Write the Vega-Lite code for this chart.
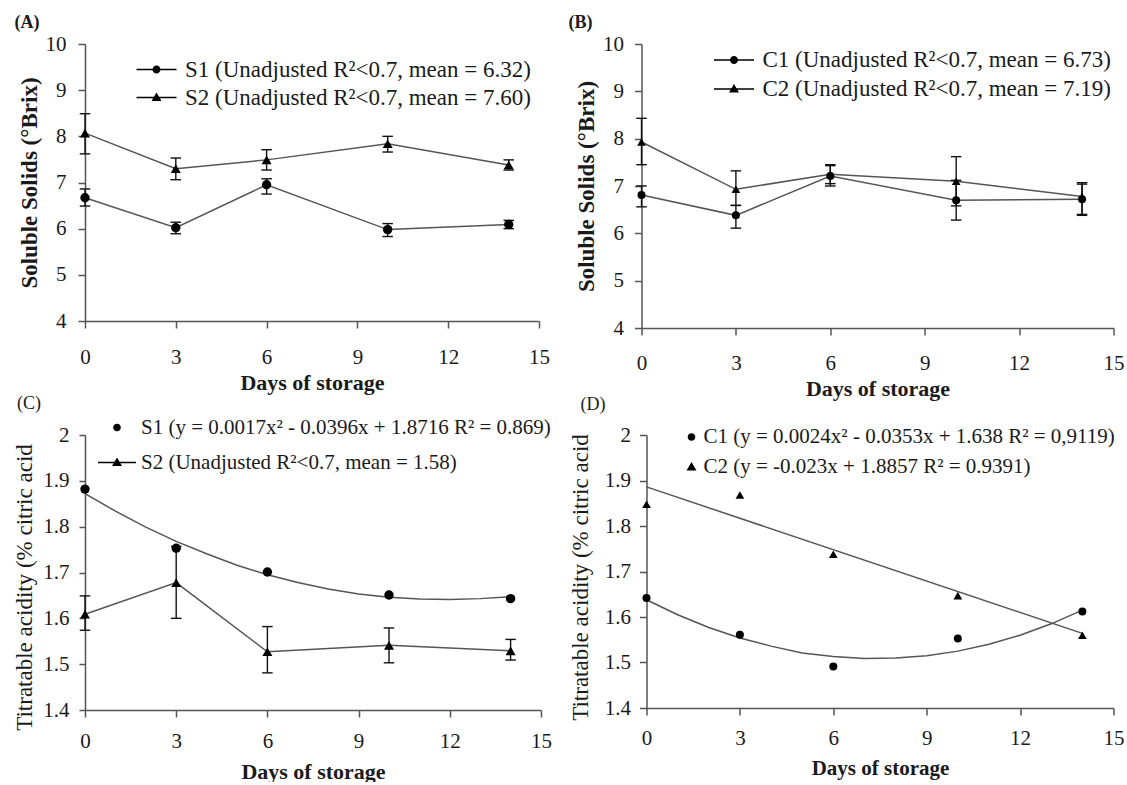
{
  "$schema": "https://vega.github.io/schema/vega-lite/v6.json",
  "padding": {"left": 13, "top": 14, "right": 0, "bottom": 0},
  "background": "white",
  "columns": 2,
  "align": {"row": "all", "column": "none"},
  "spacing": {"row": -5, "column": 16.5},
  "config": {
    "font": "Liberation Serif",
    "view": {"stroke": null},
    "axis": {"grid": false, "domainColor": "#555", "tickColor": "#555", "domainWidth": 1.5, "tickWidth": 1.5, "labelColor": "#1a1a1a", "titleColor": "#1a1a1a", "labelFont": "Liberation Serif", "titleFont": "Liberation Serif", "labelFontSize": 21, "labelFlush": false, "labelOverlap": false},
    "legend": {"title": null, "labelFont": "Liberation Serif", "labelColor": "#1a1a1a", "labelLimit": 1000, "padding": 0, "symbolSize": 400, "orient": "none"},
    "title": {"font": "Liberation Serif", "color": "#1a1a1a", "anchor": "start", "frame": "group", "fontSize": 18}
  },
  "datasets": {
    "A": [
      {"series": "S1", "day": 0, "value": 6.67, "lo": 6.49, "hi": 6.86},
      {"series": "S1", "day": 3, "value": 6.02, "lo": 5.89, "hi": 6.14},
      {"series": "S1", "day": 6, "value": 6.95, "lo": 6.75, "hi": 7.08},
      {"series": "S1", "day": 10, "value": 5.98, "lo": 5.83, "hi": 6.11},
      {"series": "S1", "day": 14, "value": 6.09, "lo": 6.0, "hi": 6.18},
      {"series": "S2", "day": 0, "value": 8.07, "lo": 7.62, "hi": 8.49},
      {"series": "S2", "day": 3, "value": 7.3, "lo": 7.06, "hi": 7.53},
      {"series": "S2", "day": 6, "value": 7.49, "lo": 7.27, "hi": 7.71},
      {"series": "S2", "day": 10, "value": 7.84, "lo": 7.66, "hi": 8.0},
      {"series": "S2", "day": 14, "value": 7.38, "lo": 7.27, "hi": 7.49}
    ],
    "B": [
      {"series": "C1", "day": 0, "value": 6.81, "lo": 6.56, "hi": 7.0},
      {"series": "C1", "day": 3, "value": 6.38, "lo": 6.11, "hi": 6.59},
      {"series": "C1", "day": 6, "value": 7.21, "lo": 7.0, "hi": 7.43},
      {"series": "C1", "day": 10, "value": 6.7, "lo": 6.28, "hi": 7.12},
      {"series": "C1", "day": 14, "value": 6.72, "lo": 6.38, "hi": 7.04},
      {"series": "C2", "day": 0, "value": 7.93, "lo": 7.45, "hi": 8.43},
      {"series": "C2", "day": 3, "value": 6.93, "lo": 6.59, "hi": 7.32},
      {"series": "C2", "day": 6, "value": 7.25, "lo": 7.05, "hi": 7.45},
      {"series": "C2", "day": 10, "value": 7.1, "lo": 6.58, "hi": 7.62},
      {"series": "C2", "day": 14, "value": 6.78, "lo": 6.4, "hi": 7.07}
    ],
    "C": [
      {"series": "S1", "day": 0, "value": 1.882},
      {"series": "S1", "day": 3, "value": 1.753},
      {"series": "S1", "day": 6, "value": 1.701},
      {"series": "S1", "day": 10, "value": 1.651},
      {"series": "S1", "day": 14, "value": 1.643},
      {"series": "S2", "day": 0, "value": 1.609, "lo": 1.574, "hi": 1.649},
      {"series": "S2", "day": 3, "value": 1.678, "lo": 1.6, "hi": 1.757},
      {"series": "S2", "day": 6, "value": 1.527, "lo": 1.481, "hi": 1.582},
      {"series": "S2", "day": 10, "value": 1.541, "lo": 1.503, "hi": 1.579},
      {"series": "S2", "day": 14, "value": 1.529, "lo": 1.509, "hi": 1.554}
    ],
    "Cfit": [
      {"series": "S1", "day": 0, "value": 1.872},
      {"series": "S1", "day": 1, "value": 1.834},
      {"series": "S1", "day": 2, "value": 1.799},
      {"series": "S1", "day": 3, "value": 1.768},
      {"series": "S1", "day": 4, "value": 1.741},
      {"series": "S1", "day": 5, "value": 1.716},
      {"series": "S1", "day": 6, "value": 1.695},
      {"series": "S1", "day": 7, "value": 1.678},
      {"series": "S1", "day": 8, "value": 1.664},
      {"series": "S1", "day": 9, "value": 1.653},
      {"series": "S1", "day": 10, "value": 1.646},
      {"series": "S1", "day": 11, "value": 1.642},
      {"series": "S1", "day": 12, "value": 1.641},
      {"series": "S1", "day": 13, "value": 1.643},
      {"series": "S1", "day": 14, "value": 1.647}
    ],
    "D": [
      {"series": "C1", "day": 0, "value": 1.642},
      {"series": "C1", "day": 3, "value": 1.561},
      {"series": "C1", "day": 6, "value": 1.491},
      {"series": "C1", "day": 10, "value": 1.553},
      {"series": "C1", "day": 14, "value": 1.612},
      {"series": "C2", "day": 0, "value": 1.848},
      {"series": "C2", "day": 3, "value": 1.868},
      {"series": "C2", "day": 6, "value": 1.738},
      {"series": "C2", "day": 10, "value": 1.647},
      {"series": "C2", "day": 14, "value": 1.56}
    ],
    "Dfit": [
      {"series": "C1", "day": 0, "value": 1.638},
      {"series": "C1", "day": 1, "value": 1.605},
      {"series": "C1", "day": 2, "value": 1.577},
      {"series": "C1", "day": 3, "value": 1.554},
      {"series": "C1", "day": 4, "value": 1.536},
      {"series": "C1", "day": 5, "value": 1.521},
      {"series": "C1", "day": 6, "value": 1.513},
      {"series": "C1", "day": 7, "value": 1.509},
      {"series": "C1", "day": 8, "value": 1.51},
      {"series": "C1", "day": 9, "value": 1.515},
      {"series": "C1", "day": 10, "value": 1.525},
      {"series": "C1", "day": 11, "value": 1.54},
      {"series": "C1", "day": 12, "value": 1.56},
      {"series": "C1", "day": 13, "value": 1.585},
      {"series": "C1", "day": 14, "value": 1.615},
      {"series": "C2", "day": 0, "value": 1.886},
      {"series": "C2", "day": 14, "value": 1.564}
    ]
  },
  "concat": [
    {
      "width": 454, "height": 277,
      "title": {"text": "(A)", "fontWeight": "bold", "dx": -70.5, "offset": 1},
      "data": {"name": "A"},
      "encoding": {
        "x": {"field": "day", "type": "quantitative", "scale": {"domain": [0, 15], "nice": false},
          "axis": {"title": "Days of storage", "values": [0, 3, 6, 9, 12, 15], "tickSize": 7, "labelPadding": 18, "titlePadding": 5, "labelFont": "Liberation Serif", "titleFont": "Liberation Serif", "labelFontSize": 21, "titleFontSize": 22, "titleFontWeight": "bold"}},
        "y": {"field": "value", "type": "quantitative", "scale": {"domain": [4, 10], "nice": false, "zero": false},
          "axis": {"title": "Soluble Solids (°Brix)", "values": [4, 5, 6, 7, 8, 9, 10], "tickSize": 7, "labelPadding": 12, "titlePadding": 4, "labelFont": "Liberation Serif", "titleFont": "Liberation Serif", "labelFontSize": 21, "titleFontSize": 23, "titleFontWeight": "bold"}}
      },
      "layer": [
        {"mark": {"type": "line", "color": "#555", "strokeWidth": 1.5}, "encoding": {"detail": {"field": "series"}}},
        {"mark": {"type": "rule", "color": "#111", "strokeWidth": 1.4}, "encoding": {"y": {"field": "lo", "type": "quantitative"}, "y2": {"field": "hi"}}},
        {"mark": {"type": "point", "shape": "stroke", "size": 110, "color": "#111", "strokeWidth": 1.4, "opacity": 1}, "encoding": {"y": {"field": "lo", "type": "quantitative"}}},
        {"mark": {"type": "point", "shape": "stroke", "size": 110, "color": "#111", "strokeWidth": 1.4, "opacity": 1}, "encoding": {"y": {"field": "hi", "type": "quantitative"}}},
        {"mark": {"type": "point", "filled": true, "color": "#000", "opacity": 1},
          "encoding": {"shape": {"field": "series", "type": "nominal", "scale": {"range": ["circle", "triangle-up"]}, "legend": null},
            "size": {"field": "series", "type": "nominal", "scale": {"range": [64, 100]}, "legend": null}}},
        {"mark": {"type": "point", "filled": true, "color": "#000", "opacity": 0},
          "encoding": {"shape": {"field": "series", "type": "nominal",
            "scale": {"range": ["M-2,-0.07H2V0.07H-2ZM0.4,0A0.4,0.4,0,1,1,-0.4,0A0.4,0.4,0,1,1,0.4,0Z", "M-2,-0.07H2V0.07H-2ZM0,-0.5L0.5,0.35L-0.5,0.35Z"]},
            "legend": {"legendX": 60, "legendY": 14, "labelFontSize": 23, "labelOffset": 17, "rowPadding": 4, "symbolOpacity": 1,
              "labelExpr": "datum.label == 'S1' ? 'S1 (Unadjusted R²<0.7, mean = 6.32)' : 'S2 (Unadjusted R²<0.7, mean = 7.60)'",
              "encode": {"symbols": {"fill": {"value": "#111"}, "opacity": {"value": 1}}}}}}}
      ],
      "resolve": {"scale": {"shape": "independent"}}
    },
    {
      "width": 472, "height": 284,
      "title": {"text": "(B)", "fontWeight": "bold", "dx": -73, "offset": 1},
      "data": {"name": "B"},
      "encoding": {
        "x": {"field": "day", "type": "quantitative", "scale": {"domain": [0, 15], "nice": false},
          "axis": {"title": "Days of storage", "values": [0, 3, 6, 9, 12, 15], "tickSize": 7, "labelPadding": 17, "titlePadding": 5, "labelFont": "Liberation Serif", "titleFont": "Liberation Serif", "labelFontSize": 21, "titleFontSize": 22, "titleFontWeight": "bold"}},
        "y": {"field": "value", "type": "quantitative", "scale": {"domain": [4, 10], "nice": false, "zero": false},
          "axis": {"title": "Soluble Solids (°Brix)", "values": [4, 5, 6, 7, 8, 9, 10], "tickSize": 7, "labelPadding": 11, "titlePadding": 4, "labelFont": "Liberation Serif", "titleFont": "Liberation Serif", "labelFontSize": 21, "titleFontSize": 23, "titleFontWeight": "bold"}}
      },
      "layer": [
        {"mark": {"type": "line", "color": "#555", "strokeWidth": 1.5}, "encoding": {"detail": {"field": "series"}}},
        {"mark": {"type": "rule", "color": "#111", "strokeWidth": 1.4}, "encoding": {"y": {"field": "lo", "type": "quantitative"}, "y2": {"field": "hi"}}},
        {"mark": {"type": "point", "shape": "stroke", "size": 110, "color": "#111", "strokeWidth": 1.4, "opacity": 1}, "encoding": {"y": {"field": "lo", "type": "quantitative"}}},
        {"mark": {"type": "point", "shape": "stroke", "size": 110, "color": "#111", "strokeWidth": 1.4, "opacity": 1}, "encoding": {"y": {"field": "hi", "type": "quantitative"}}},
        {"mark": {"type": "point", "filled": true, "color": "#000", "opacity": 1},
          "encoding": {"shape": {"field": "series", "type": "nominal", "scale": {"range": ["circle", "triangle-up"]}, "legend": null},
            "size": {"field": "series", "type": "nominal", "scale": {"range": [64, 100]}, "legend": null}}},
        {"mark": {"type": "point", "filled": true, "color": "#000", "opacity": 0},
          "encoding": {"shape": {"field": "series", "type": "nominal",
            "scale": {"range": ["M-2,-0.07H2V0.07H-2ZM0.4,0A0.4,0.4,0,1,1,-0.4,0A0.4,0.4,0,1,1,0.4,0Z", "M-2,-0.07H2V0.07H-2ZM0,-0.5L0.5,0.35L-0.5,0.35Z"]},
            "legend": {"legendX": 81, "legendY": 4.5, "labelFontSize": 23, "labelOffset": 17, "rowPadding": 5, "symbolOpacity": 1,
              "labelExpr": "datum.label == 'C1' ? 'C1 (Unadjusted R²<0.7, mean = 6.73)' : 'C2 (Unadjusted R²<0.7, mean = 7.19)'",
              "encode": {"symbols": {"fill": {"value": "#111"}, "opacity": {"value": 1}}}}}}}
      ],
      "resolve": {"scale": {"shape": "independent"}}
    },
    {
      "width": 456, "height": 275,
      "title": {"text": "(C)", "fontWeight": "normal", "dx": -68, "offset": 4},
      "data": {"name": "C"},
      "encoding": {
        "x": {"field": "day", "type": "quantitative", "scale": {"domain": [0, 15], "nice": false},
          "axis": {"title": "Days of storage", "values": [0, 3, 6, 9, 12, 15], "tickSize": 7, "labelPadding": 13, "titlePadding": 10, "labelFont": "Liberation Serif", "titleFont": "Liberation Serif", "labelFontSize": 21, "titleFontSize": 22, "titleFontWeight": "bold"}},
        "y": {"field": "value", "type": "quantitative", "scale": {"domain": [1.4, 2], "nice": false, "zero": false},
          "axis": {"title": "Titratable acidity (% citric acid", "values": [1.4, 1.5, 1.6, 1.7, 1.8, 1.9, 2], "format": ".1~f", "tickSize": 6, "labelPadding": 10, "titlePadding": 6, "labelFont": "Liberation Serif", "titleFont": "Liberation Serif", "labelFontSize": 21, "titleFontSize": 23, "titleFontWeight": "normal", "titleY": 152}}
      },
      "layer": [
        {"data": {"name": "Cfit"}, "mark": {"type": "line", "color": "#555", "strokeWidth": 1.5}, "encoding": {"detail": {"field": "series"}}},
        {"transform": [{"filter": "datum.series == 'S2'"}], "mark": {"type": "line", "color": "#555", "strokeWidth": 1.5}, "encoding": {"detail": {"field": "series"}}},
        {"mark": {"type": "rule", "color": "#111", "strokeWidth": 1.4}, "encoding": {"y": {"field": "lo", "type": "quantitative"}, "y2": {"field": "hi"}}},
        {"mark": {"type": "point", "shape": "stroke", "size": 110, "color": "#111", "strokeWidth": 1.4, "opacity": 1}, "encoding": {"y": {"field": "lo", "type": "quantitative"}}},
        {"mark": {"type": "point", "shape": "stroke", "size": 110, "color": "#111", "strokeWidth": 1.4, "opacity": 1}, "encoding": {"y": {"field": "hi", "type": "quantitative"}}},
        {"mark": {"type": "point", "filled": true, "color": "#000", "opacity": 1},
          "encoding": {"shape": {"field": "series", "type": "nominal", "scale": {"range": ["circle", "triangle-up"]}, "legend": null},
            "size": {"field": "series", "type": "nominal", "scale": {"range": [64, 100]}, "legend": null}}},
        {"mark": {"type": "point", "filled": true, "color": "#000", "opacity": 0},
          "encoding": {"shape": {"field": "series", "type": "nominal",
            "scale": {"range": ["M0.38,0A0.38,0.38,0,1,1,-0.38,0A0.38,0.38,0,1,1,0.38,0Z", "M-1.9,-0.07H1.9V0.07H-1.9ZM0,-0.5L0.5,0.35L-0.5,0.35Z"]},
            "legend": {"legendX": 21, "legendY": -18.5, "labelFontSize": 21, "labelOffset": 13, "rowPadding": 14, "symbolOpacity": 1,
              "labelExpr": "datum.label == 'S1' ? 'S1 (y = 0.0017x² - 0.0396x + 1.8716 R² = 0.869)' : 'S2 (Unadjusted R²<0.7, mean = 1.58)'",
              "encode": {"symbols": {"fill": {"value": "#111"}, "opacity": {"value": 1}}}}}}}
      ],
      "resolve": {"scale": {"shape": "independent"}}
    },
    {
      "width": 467, "height": 273,
      "title": {"text": "(D)", "fontWeight": "normal", "dx": -66, "offset": 10},
      "data": {"name": "D"},
      "encoding": {
        "x": {"field": "day", "type": "quantitative", "scale": {"domain": [0, 15], "nice": false},
          "axis": {"title": "Days of storage", "values": [0, 3, 6, 9, 12, 15], "tickSize": 7, "labelPadding": 12, "titlePadding": 9, "labelFont": "Liberation Serif", "titleFont": "Liberation Serif", "labelFontSize": 21, "titleFontSize": 21, "titleFontWeight": "bold"}},
        "y": {"field": "value", "type": "quantitative", "scale": {"domain": [1.4, 2], "nice": false, "zero": false},
          "axis": {"title": "Titratable acidity (% citric acid", "values": [1.4, 1.5, 1.6, 1.7, 1.8, 1.9, 2], "format": ".1~f", "tickSize": 7, "labelPadding": 9, "titlePadding": 12, "labelFont": "Liberation Serif", "titleFont": "Liberation Serif", "labelFontSize": 21, "titleFontSize": 23, "titleFontWeight": "normal", "titleY": 142}}
      },
      "layer": [
        {"data": {"name": "Dfit"}, "mark": {"type": "line", "color": "#555", "strokeWidth": 1.5}, "encoding": {"detail": {"field": "series"}}},
        {"mark": {"type": "point", "filled": true, "color": "#000", "opacity": 1},
          "encoding": {"shape": {"field": "series", "type": "nominal", "scale": {"range": ["circle", "triangle-up"]}, "legend": null},
            "size": {"field": "series", "type": "nominal", "scale": {"range": [64, 100]}, "legend": null}}},
        {"mark": {"type": "point", "filled": true, "color": "#000", "opacity": 0},
          "encoding": {"shape": {"field": "series", "type": "nominal",
            "scale": {"range": ["M0.38,0A0.38,0.38,0,1,1,-0.38,0A0.38,0.38,0,1,1,0.38,0Z", "M0,-0.5L0.5,0.35L-0.5,0.35Z"]},
            "legend": {"legendX": 34, "legendY": -9, "labelFontSize": 21, "labelOffset": 1, "rowPadding": 9, "symbolOpacity": 1,
              "labelExpr": "datum.label == 'C1' ? 'C1 (y = 0.0024x² - 0.0353x + 1.638 R² = 0,9119)' : 'C2 (y = -0.023x + 1.8857 R² = 0.9391)'",
              "encode": {"symbols": {"fill": {"value": "#111"}, "opacity": {"value": 1}}}}}}}
      ],
      "resolve": {"scale": {"shape": "independent"}}
    }
  ]
}
